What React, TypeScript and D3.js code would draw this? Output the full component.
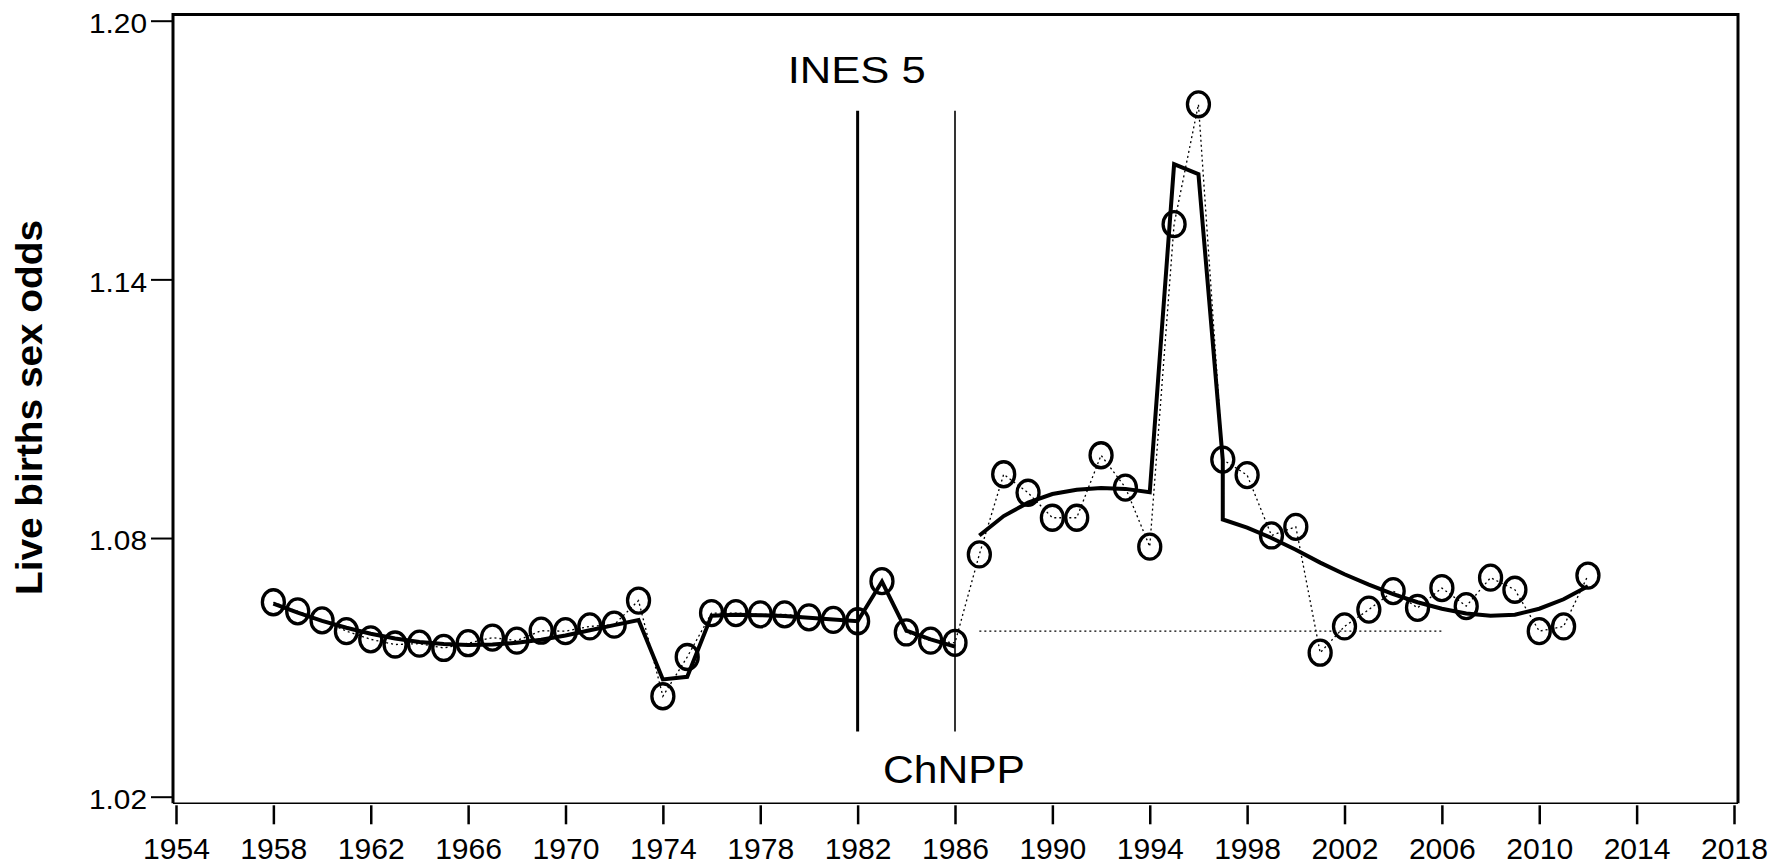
import { useEffect, useRef } from 'react';
import * as d3 from 'd3';

// observed live births sex odds, one value per year
const years = [
  1958, 1959, 1960, 1961, 1962, 1963, 1964, 1965, 1966, 1967, 1968, 1969, 1970, 1971,
  1972, 1973, 1974, 1975, 1976, 1977, 1978, 1979, 1980, 1981, 1982, 1983, 1984, 1985,
  1986, 1987, 1988, 1989, 1990, 1991, 1992, 1993, 1994, 1995, 1996, 1997, 1998, 1999,
  2000, 2001, 2002, 2003, 2004, 2005, 2006, 2007, 2008, 2009, 2010, 2011, 2012,
];
const sexOdds = [
  1.0651, 1.0630, 1.0609, 1.0584, 1.0565, 1.0553, 1.0555, 1.0545, 1.0556, 1.0569, 1.0562, 1.0585, 1.0584, 1.0595,
  1.0599, 1.0655, 1.0433, 1.0524, 1.0626, 1.0626, 1.0623, 1.0623, 1.0616, 1.0610, 1.0607, 1.0700, 1.0581, 1.0562,
  1.0557, 1.0762, 1.0948, 1.0905, 1.0847, 1.0847, 1.0992, 1.0917, 1.0780, 1.1528, 1.1806, 1.0982, 1.0946, 1.0806,
  1.0826, 1.0534, 1.0595, 1.0634, 1.0677, 1.0638, 1.0684, 1.0642, 1.0708, 1.0680, 1.0584, 1.0595, 1.0713,
];

// fitted trend before the accident
const trendYearsPre = [
  1958, 1959, 1960, 1961, 1962, 1963, 1964, 1965, 1966, 1967, 1968, 1969, 1970, 1971, 1972,
  1973, 1974, 1975, 1976, 1977, 1978, 1979, 1980, 1981, 1982, 1983, 1984, 1985, 1986,
];
const trendValuesPre = [
  1.0648, 1.0627, 1.0608, 1.0592, 1.0578, 1.0567, 1.0559, 1.0554, 1.0552, 1.0553, 1.0557, 1.0564, 1.0574, 1.0586, 1.0598,
  1.0610, 1.0472, 1.0478, 1.0620, 1.0622, 1.0621, 1.0619, 1.0615, 1.0611, 1.0607, 1.0699, 1.0585, 1.0565, 1.0548,
];

// fitted trend after the accident (1997 twice: the drop after the peak)
const trendYearsPost = [
  1987, 1988, 1989, 1990, 1991, 1992, 1993, 1994, 1995, 1996, 1997, 1997, 1998, 1999,
  2000, 2001, 2002, 2003, 2004, 2005, 2006, 2007, 2008, 2009, 2010, 2011, 2012,
];
const trendValuesPost = [
  1.0806, 1.0851, 1.0882, 1.0902, 1.0912, 1.0916, 1.0914, 1.0906, 1.1667, 1.1644, 1.0981, 1.0843, 1.0824, 1.0800,
  1.0773, 1.0743, 1.0716, 1.0692, 1.0670, 1.0651, 1.0636, 1.0625, 1.0620, 1.0622, 1.0636, 1.0658, 1.0688,
];

const baselineYears = [1987, 2006];
const baselineValue = 1.0584;

const eventYears = [1982, 1986];
const eventLabels = ['INES 5', 'ChNPP'];
const eventSpan = [1.0351, 1.1791];

const xTicks = [1954, 1958, 1962, 1966, 1970, 1974, 1978, 1982, 1986, 1990, 1994, 1998, 2002, 2006, 2010, 2014, 2018];
const yTicks = [1.02, 1.08, 1.14, 1.20];
const yTickLabels = ['1.02', '1.08', '1.14', '1.20'];

const W = 1787;
const H = 865;
const FONT = '"Liberation Sans", Arial, sans-serif';

export default function App() {
  const svgRef = useRef<SVGSVGElement>(null);

  useEffect(() => {
    if (!svgRef.current) return;
    const svg = d3.select(svgRef.current);
    svg.selectAll('*').remove();

    const x = d3.scaleLinear().domain([1954, 2018]).range([176, 1734]);
    const y = d3.scaleLinear().domain([1.02, 1.20]).range([796.7, 20.7]);

    const frame = { left: 173, right: 1738, top: 14.5, bottom: 803.3 };

    svg.append('rect').attr('width', W).attr('height', H).attr('fill', '#fff');

    // frame: thick on three sides, thin at the bottom
    svg.append('path')
      .attr('d', `M${frame.left},${frame.bottom} V${frame.top} H${frame.right} V${frame.bottom}`)
      .attr('fill', 'none')
      .attr('stroke', '#000')
      .attr('stroke-width', 3);
    svg.append('line')
      .attr('x1', frame.left).attr('x2', frame.right)
      .attr('y1', frame.bottom).attr('y2', frame.bottom)
      .attr('stroke', '#000')
      .attr('stroke-width', 1.6);

    // y axis
    const yAxis = svg.append('g')
      .attr('transform', `translate(${frame.left - 1},0)`)
      .call(
        d3.axisLeft(y)
          .tickValues(yTicks)
          .tickSize(21)
          .tickPadding(4)
          .tickFormat((d, i) => yTickLabels[i])
      );
    yAxis.select('.domain').remove();
    yAxis.selectAll('line').attr('stroke', '#000').attr('stroke-width', 2);
    yAxis.selectAll('text')
      .attr('font-family', FONT)
      .attr('font-size', 28)
      .attr('fill', '#000')
      .attr('dy', '0.42em')
      .attr('textLength', 58)
      .attr('lengthAdjust', 'spacingAndGlyphs');

    // x axis
    const xAxis = svg.append('g')
      .attr('transform', `translate(0,${frame.bottom + 2})`)
      .call(
        d3.axisBottom(x)
          .tickValues(xTicks)
          .tickSize(19)
          .tickPadding(14)
          .tickFormat(d3.format('d'))
      );
    xAxis.select('.domain').remove();
    xAxis.selectAll('line').attr('stroke', '#000').attr('stroke-width', 2.5);
    xAxis.selectAll('text')
      .attr('font-family', FONT)
      .attr('font-size', 29)
      .attr('fill', '#000')
      .attr('textLength', 67)
      .attr('lengthAdjust', 'spacingAndGlyphs');

    // y title
    svg.append('text')
      .attr('transform', 'translate(42,407.5) rotate(-90)')
      .attr('text-anchor', 'middle')
      .attr('font-family', FONT)
      .attr('font-weight', 'bold')
      .attr('font-size', 36)
      .attr('textLength', 375)
      .attr('lengthAdjust', 'spacingAndGlyphs')
      .text('Live births sex odds');

    // event lines
    eventYears.forEach((yr, i) => {
      svg.append('line')
        .attr('x1', x(yr)).attr('x2', x(yr))
        .attr('y1', y(eventSpan[0])).attr('y2', y(eventSpan[1]))
        .attr('stroke', '#000')
        .attr('stroke-width', i === 0 ? 3 : 1.6);
    });
    svg.append('text')
      .attr('x', x(eventYears[0]) - 1)
      .attr('y', 83.3)
      .attr('text-anchor', 'middle')
      .attr('font-family', FONT)
      .attr('font-size', 37)
      .attr('textLength', 138)
      .attr('lengthAdjust', 'spacingAndGlyphs')
      .text(eventLabels[0]);
    svg.append('text')
      .attr('x', x(eventYears[1]) - 1)
      .attr('y', 783)
      .attr('text-anchor', 'middle')
      .attr('font-family', FONT)
      .attr('font-size', 38)
      .attr('textLength', 142)
      .attr('lengthAdjust', 'spacingAndGlyphs')
      .text(eventLabels[1]);

    const dotted = (sel: any) => sel
      .attr('fill', 'none')
      .attr('stroke', '#000')
      .attr('stroke-width', 1.3)
      .attr('stroke-dasharray', '2,3');

    // horizontal reference
    svg.append('line')
      .attr('x1', x(baselineYears[0])).attr('x2', x(baselineYears[1]))
      .attr('y1', y(baselineValue)).attr('y2', y(baselineValue))
      .call(dotted);

    // observed series, dotted
    const line = d3.line<number>()
      .x((d, i) => x(years[i]))
      .y(d => y(d));
    svg.append('path').attr('d', line(sexOdds)).call(dotted);

    // fitted trend
    const trendLine = (ys: number[]) => d3.line<number>()
      .x((d, i) => x(ys[i]))
      .y(d => y(d));
    [[trendYearsPre, trendValuesPre], [trendYearsPost, trendValuesPost]].forEach(([ys, vs]) => {
      svg.append('path')
        .attr('d', trendLine(ys)(vs))
        .attr('fill', 'none')
        .attr('stroke', '#000')
        .attr('stroke-width', 4)
        .attr('stroke-linejoin', 'miter');
    });

    // points
    svg.append('g')
      .selectAll('ellipse')
      .data(sexOdds)
      .enter().append('ellipse')
      .attr('cx', (d, i) => x(years[i]))
      .attr('cy', d => y(d))
      .attr('rx', 11)
      .attr('ry', 12.5)
      .attr('fill', 'none')
      .attr('stroke', '#000')
      .attr('stroke-width', 3.3);
  }, []);

  return (
    <svg
      ref={svgRef}
      width={W}
      height={H}
      viewBox={`0 0 ${W} ${H}`}
      style={{ position: 'absolute', left: 0, top: 0 }}
    />
  );
}
